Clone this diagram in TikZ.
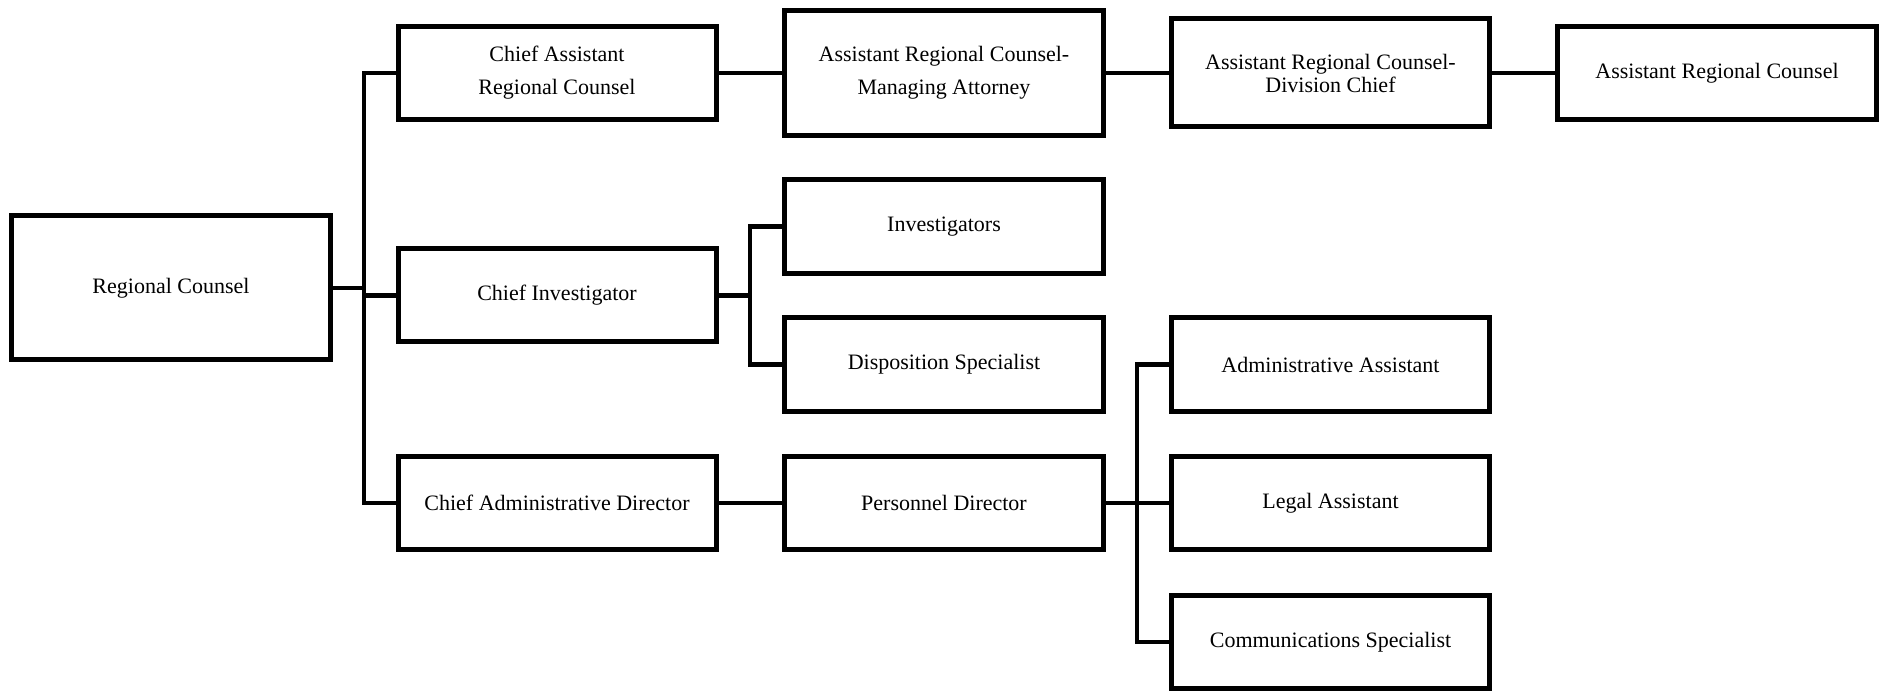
\documentclass[tikz,border=0pt]{standalone}
\usepackage{fontspec}
\setmainfont{Liberation Serif}
\begin{document}
\begin{tikzpicture}[x=1pt,y=-1pt,
  box/.style={draw=black, line width=5pt, fill=white, rectangle,
    minimum width=318pt, minimum height=93pt, inner sep=0pt,
    align=center, font=\fontsize{22}{33}\selectfont},
  link/.style={draw=black, line width=4.5pt}]
\useasboundingbox (0,0) rectangle (1884,700);

% first column
\node[box, minimum width=319pt, minimum height=144pt] (rc) at (171,288) {Regional Counsel};

% second column
\node[box] (carc) at (557,73) {Chief Assistant\\Regional Counsel};
\node[box] (ci) at (557,295.5) {Chief Investigator};
\node[box] (cad) at (557,503) {Chief Administrative Director};

% third column
\node[box, minimum width=319pt, minimum height=125pt] (ma) at (944,73) {Assistant Regional Counsel-\\Managing Attorney};
\node[box, minimum width=319pt, minimum height=94pt] (inv) at (944,226.5) {Investigators};
\node[box, minimum width=319pt] (ds) at (944,364.5) {Disposition Specialist};
\node[box, minimum width=319pt] (pd) at (944,503) {Personnel Director};

% fourth column
\node[box, minimum height=108pt, font=\fontsize{22}{23}\selectfont] (dc) at (1330.5,73) {Assistant Regional Counsel-\\Division Chief};
\node[box] (aa) at (1330.5,364.5) {Administrative Assistant};
\node[box] (la) at (1330.5,503) {Legal Assistant};
\node[box] (cs) at (1330.5,642) {Communications Specialist};

% fifth column
\node[box, minimum width=319pt] (arc) at (1717,73) {Assistant Regional Counsel};

% reporting lines
\coordinate (busA) at (364,0);
\coordinate (busB) at (750,0);
\coordinate (busC) at (1137,0);

\draw[link] (rc.east) -- (rc.east -| busA);
\draw[link] (carc.west) -- (carc.west -| busA) -- (cad.west -| busA) -- (cad.west);
\draw[link] (ci.west) -- (ci.west -| busA);

\draw[link] (carc.east) -- (ma.west);
\draw[link] (ma.east) -- (dc.west);
\draw[link] (dc.east) -- (arc.west);

\draw[link] (ci.east) -- (ci.east -| busB);
\draw[link] (inv.west) -- (inv.west -| busB) -- (ds.west -| busB) -- (ds.west);

\draw[link] (cad.east) -- (pd.west);

\draw[link] (pd.east) -- (la.west);
\draw[link] (aa.west) -- (aa.west -| busC) -- (cs.west -| busC) -- (cs.west);
\end{tikzpicture}
\end{document}
